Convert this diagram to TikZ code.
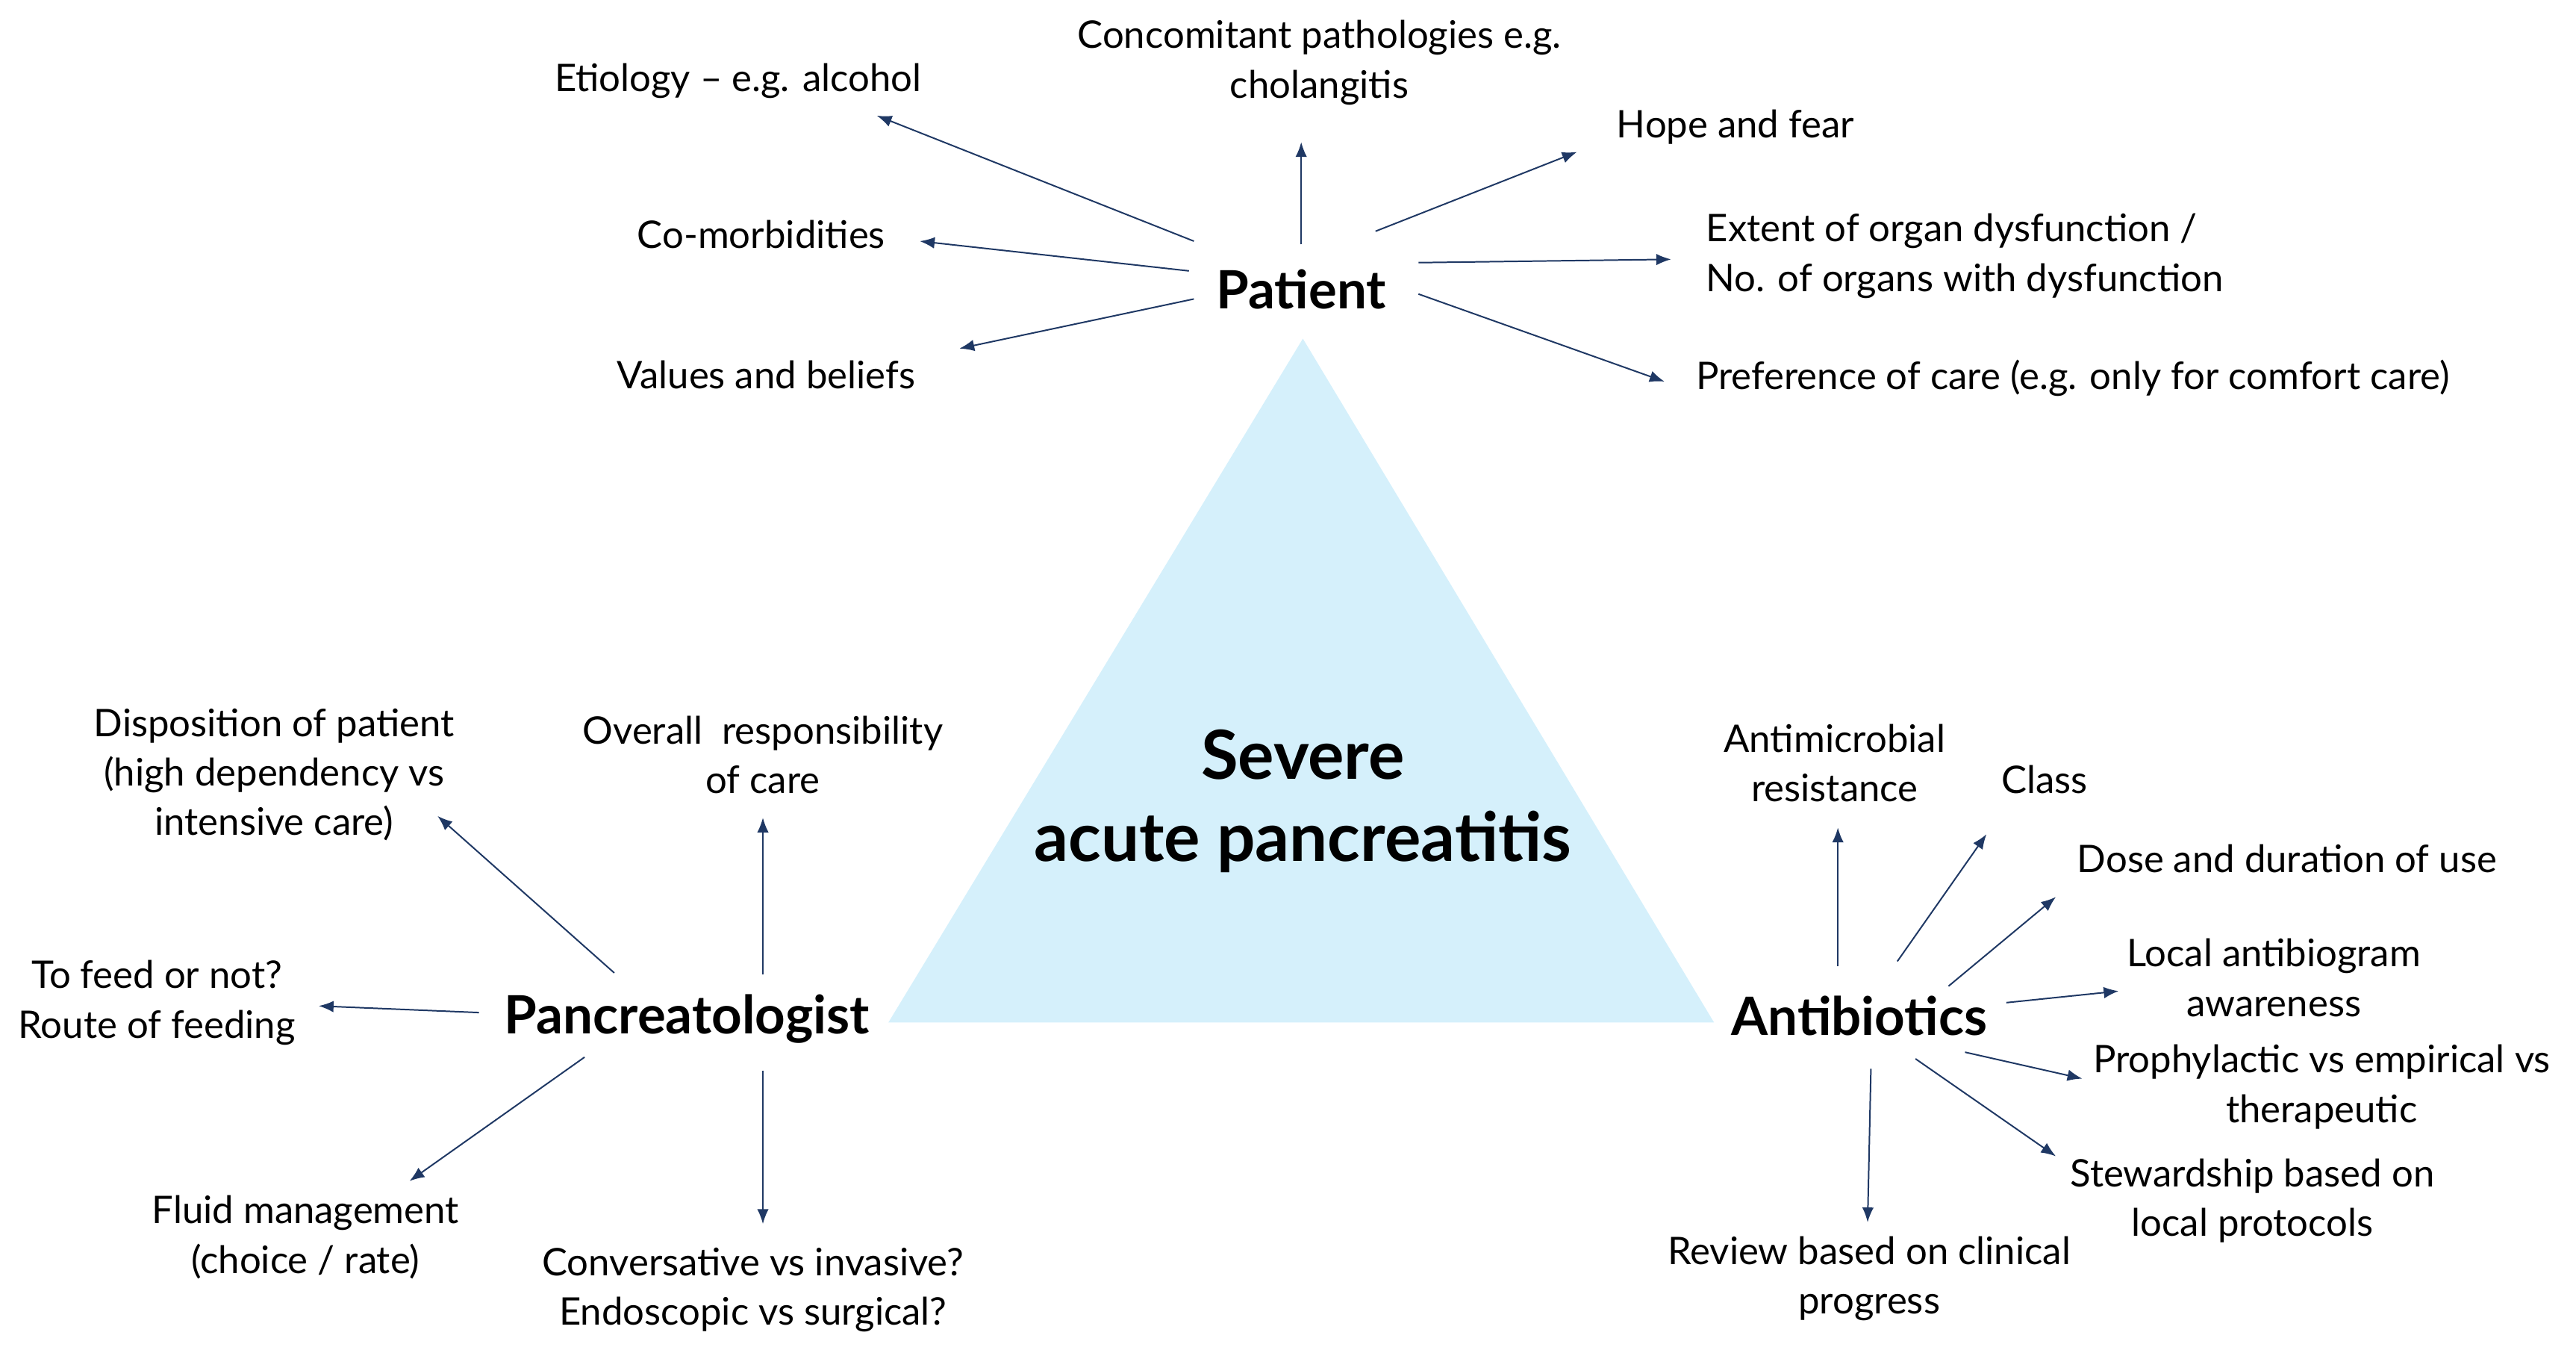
\documentclass[tikz,border=0pt]{standalone}
\usepackage{fontspec}
\setmainfont{Lato}
\usetikzlibrary{arrows.meta}
\definecolor{arr}{HTML}{1F3864}
\definecolor{tri}{HTML}{D5F0FB}
\begin{document}
\begin{tikzpicture}[x=1pt,y=-1pt,
 lbl/.style={font=\fontsize{23}{30}\selectfont,align=center,inner sep=0pt},
 hub/.style={font=\fontsize{32}{36}\selectfont\bfseries,inner sep=0pt},
 ar/.style={draw=arr,line width=0.9pt,-{Latex[length=9pt,width=7pt]}}]
\useasboundingbox (0,0) rectangle (1560,817);
\fill[tri] (789,205) -- (538,619) -- (1038,619) -- cycle;
\node[font=\fontsize{41}{50}\selectfont\bfseries,align=center] (sap) at (789,485) {Severe\\acute pancreatitis};
\node[hub] (pat) at (788,175) {Patient};
\node[hub] (pan) at (416,617) {Pancreatologist};
\node[hub] (ant) at (1126,615) {Antibiotics};
% patient
\node[lbl] (p1) at (447,49) {Etiology – e.g. alcohol};
\node[lbl] (p2) at (799,38) {Concomitant pathologies e.g.\\cholangitis};
\node[lbl] (p3) at (1051,77) {Hope and fear};
\node[lbl,align=left,anchor=west] (p4) at (1033,155) {Extent of organ dysfunction /\\No. of organs with dysfunction};
\node[lbl,anchor=west] (p5) at (1027,229) {Preference of care (e.g. only for comfort care)};
\node[lbl] (p6) at (461,142) {Co-morbidities};
\node[lbl] (p7) at (464,227) {Values and beliefs};
\coordinate (s1) at (723,146); \coordinate (e1) at (531,70);
\coordinate (s2) at (788,148); \coordinate (e2) at (788,86);
\coordinate (s3) at (833,140); \coordinate (e3) at (955,92);
\coordinate (s4) at (859,159); \coordinate (e4) at (1012,157);
\coordinate (s5) at (859,178); \coordinate (e5) at (1008,231);
\coordinate (s6) at (720,164); \coordinate (e6) at (557,146);
\coordinate (s7) at (723,181); \coordinate (e7) at (581,211);
\foreach \i in {1,...,7} \draw[ar] (s\i) -- (e\i);
% pancreatologist
\node[lbl] (q1) at (166,469) {Disposition of patient\\(high dependency vs\\intensive care)};
\node[lbl] (q2) at (462,457) {Overall\ \ responsibility\\of care};
\node[lbl] (q3) at (95,607) {To feed or not?\\Route of feeding};
\node[lbl] (q4) at (185,749) {Fluid management\\(choice / rate)};
\node[lbl] (q5) at (456,781) {Conversative vs invasive?\\Endoscopic vs surgical?};
\coordinate (t1) at (372,589); \coordinate (f1) at (265,494);
\coordinate (t2) at (462,590); \coordinate (f2) at (462,495);
\coordinate (t3) at (290,613); \coordinate (f3) at (193,609);
\coordinate (t4) at (354,640); \coordinate (f4) at (248,715);
\coordinate (t5) at (462,648); \coordinate (f5) at (462,741);
\foreach \i in {1,...,5} \draw[ar] (t\i) -- (f\i);
% antibiotics
\node[lbl] (r1) at (1111,462) {Antimicrobial\\resistance};
\node[lbl] (r2) at (1238,472) {Class};
\node[lbl] (r3) at (1385,520) {Dose and duration of use};
\node[lbl] (r4) at (1377,592) {Local antibiogram\\awareness};
\node[lbl] (r5) at (1406,658) {Prophylactic vs empirical vs\\therapeutic};
\node[lbl] (r6) at (1364,727) {Stewardship based on\\local protocols};
\node[lbl] (r7) at (1132,774) {Review based on clinical\\progress};
\coordinate (u1) at (1113,585); \coordinate (g1) at (1113,501);
\coordinate (u2) at (1149,582); \coordinate (g2) at (1203,505);
\coordinate (u3) at (1180,597); \coordinate (g3) at (1245,543);
\coordinate (u4) at (1215,607); \coordinate (g4) at (1283,600);
\coordinate (u5) at (1190,637); \coordinate (g5) at (1261,653);
\coordinate (u6) at (1160,641); \coordinate (g6) at (1245,700);
\coordinate (u7) at (1133,647); \coordinate (g7) at (1131,740);
\foreach \i in {1,...,7} \draw[ar] (u\i) -- (g\i);
\end{tikzpicture}
\end{document}
